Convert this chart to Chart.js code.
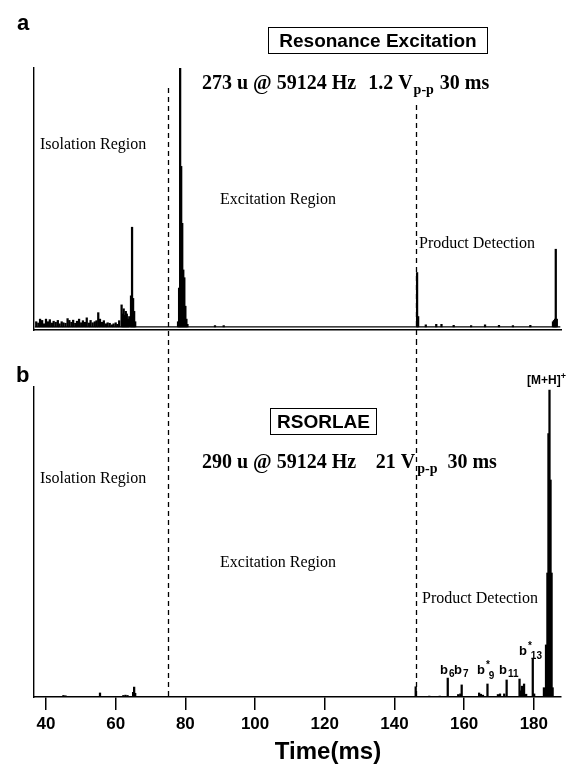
<!DOCTYPE html>
<html><head><meta charset="utf-8">
<script src="https://cdn.jsdelivr.net/npm/chart.js@4.4.1/dist/chart.umd.min.js"></script>
<style>
html,body{margin:0;padding:0;background:#fff;}
#wrap{position:relative;width:573px;height:764px;overflow:hidden;background:#fff;}
canvas{position:absolute;left:0;}
#ca{top:0;} #cb{top:340px;}
</style></head><body>
<div id="wrap"><canvas id="ca" width="573" height="340"></canvas><canvas id="cb" width="573" height="424"></canvas></div>
<script>
// ---- data (time in ms, relative intensity in %) ----
const timeA = [37.2,37.8,38.3,38.9,39.4,40.0,40.6,41.1,41.7,42.2,42.8,43.4,43.9,44.5,45.0,45.6,46.2,46.7,47.3,47.8,48.4,48.9,49.5,50.1,50.6,51.2,51.7,52.3,52.8,53.4,54.0,54.5,55.0,55.5,56.1,56.6,57.2,57.7,58.3,58.9,59.4,60.0,60.5,61.0,
  61.7,62.0,62.3,62.6,62.9,63.2,63.5,63.9,64.4,64.7,65.0,65.3,65.6,
  77.9,78.2,78.5,78.8,79.1,79.4,79.7,80.0,80.3,80.6,
  88.5,91.0,
  146.5,146.8,
  149.0,152.0,153.5,157.0,162.0,166.0,170.0,174.0,179.0,
  185.5,185.8,186.1,186.3,186.6];
const valA = [2,1.5,3,2.5,1.2,3,2,2.8,1.5,2.2,1.8,2.5,1.2,2,1.6,1.4,3.2,2.5,1.8,2.6,1.4,2.2,3,1.6,2.4,1.8,3.5,1.5,2.5,1.6,2,2.4,5.5,3,1.8,2.4,1.2,1.6,1.4,0.8,1.2,1.6,1.0,2.4,
  8.5,5,7,4.5,6,5,3,4,12,38.5,11,6,2,
  2,15,100,62,40,22,19,8,3,1,
  0.5,0.5,
  21,4,
  0.8,1,1,0.6,0.5,0.8,0.6,0.5,0.6,
  2,2.5,3,30,3];
const timeB = [45.0,45.6,55.5,62.2,62.8,63.4,65.0,65.3,65.6,146.1,150.0,153.0,155.3,158.3,158.9,159.3,164.3,164.8,165.4,166.7,169.7,170.3,171.5,172.2,175.9,176.3,176.6,177.2,177.8,179.7,180.1,182.9,183.5,183.9,184.2,184.5,184.8,185.1,185.4];
const valB = [0.5,0.4,1.3,0.5,0.6,0.5,1.5,3.2,1.2,3.3,0.3,0.3,6.1,0.8,1,3.9,1.3,0.9,0.6,4.2,0.8,1,1,5.5,5.8,2,3.5,4.2,0.9,12.3,1,3,16.8,40,85,99,70,40,3];
const regionBounds = [75.0, 146.2];
const xTicks = [40,60,80,100,120,140,160,180];
const xRange = [36.56, 187.8];
const baselineA = [36.8, 187.6];

const SANS = '"Liberation Sans", Arial, sans-serif';
const SERIF = '"Liberation Serif", "Times New Roman", serif';

function pts(t, v){ return t.map((x,i)=>({x:x, y:v[i]})); }

function txt(ctx, s, x, y, font, align){
  ctx.font = font; ctx.textAlign = align||'left'; ctx.textBaseline='alphabetic'; ctx.fillStyle='#000';
  ctx.fillText(s, x, y);
}
function run(ctx, x, y, parts){
  ctx.textAlign='left'; ctx.textBaseline='alphabetic'; ctx.fillStyle='#000';
  parts.forEach(p=>{ ctx.font=p[1]; ctx.fillText(p[0], x, y+(p[2]||0)); x += ctx.measureText(p[0]).width + (p[3]||0); });
}

function dashPlugin(panel){
  return {id:'dash'+panel, afterDatasetsDraw(chart){
    const ctx=chart.ctx, xs=chart.scales.x;
    ctx.save(); ctx.strokeStyle='#000'; ctx.lineWidth=1.3; ctx.setLineDash([5,4]);
    regionBounds.forEach((v,i)=>{
      const px=Math.round(xs.getPixelForValue(v))+0.5;
      const y0 = panel==='a' ? [88,105][i] : 0;
      const y1 = panel==='a' ? chart.height : chart.chartArea.bottom;
      ctx.beginPath(); ctx.moveTo(px,y0); ctx.lineTo(px,y1); ctx.stroke();
    });
    ctx.restore();
  }};
}

const textA = {id:'textA', afterDraw(chart){
  const c=chart.ctx; c.save();
  txt(c,'a',17,30,'bold 22px '+SANS);
  c.strokeStyle='#000'; c.lineWidth=1; c.strokeRect(268.5,27.5,219,26);
  txt(c,'Resonance Excitation',378,47,'bold 19px '+SANS,'center');
  run(c,202,89,[['273 u @ 59124 Hz','bold 20px '+SERIF,0,12],['1.2 V','bold 20px '+SERIF,0,1],['p-p','bold 14px '+SERIF,5,6],['30 ms','bold 20px '+SERIF,0]]);
  txt(c,'Isolation Region',40,149,'16px '+SERIF);
  txt(c,'Excitation Region',220,204,'16px '+SERIF);
  txt(c,'Product Detection',419,248,'16px '+SERIF);
  c.restore();
}};

const OB = 340;
const textB = {id:'textB', afterDraw(chart){
  const c=chart.ctx; c.save();
  txt(c,'b',16,382-OB,'bold 22px '+SANS);
  run(c,527,384-OB,[['[M+H]','bold 12px '+SANS,0,0],['+','bold 9px '+SANS,-5]]);
  c.strokeStyle='#000'; c.lineWidth=1; c.strokeRect(270.5,408.5-OB,106,26);
  txt(c,'RSORLAE',323.5,428-OB,'bold 19px '+SANS,'center');
  run(c,202,468-OB,[['290 u @ 59124 Hz','bold 20px '+SERIF,0,19.6],['21 V','bold 20px '+SERIF,0,2],['p-p','bold 14px '+SERIF,5,10],['30 ms','bold 20px '+SERIF,0]]);
  txt(c,'Isolation Region',40,483-OB,'16px '+SERIF);
  txt(c,'Excitation Region',220,567-OB,'16px '+SERIF);
  txt(c,'Product Detection',422,603-OB,'16px '+SERIF);
  const B='bold 13px '+SANS, S='bold 10px '+SANS;
  run(c,440,674-OB,[['b',B,0,1],['6',S,3]]);
  run(c,454,674-OB,[['b',B,0,1],['7',S,3]]);
  run(c,477,674-OB,[['b',B,0,1],['*',S,-6,-1],['9',S,5]]);
  run(c,499,674-OB,[['b',B,0,1],['11',S,3]]);
  run(c,519,655-OB,[['b',B,0,1],['*',S,-6,-1],['13',S,4]]);
  txt(c,'Time(ms)',328,759-OB,'bold 24px '+SANS,'center');
  c.restore();
}};

const common = {responsive:false, animation:false, events:[],
  plugins:{legend:{display:false}, tooltip:{enabled:false}, title:{display:false}}};

new Chart(document.getElementById('ca'), {
  type:'bar',
  data:{datasets:[
    {type:'line', data: baselineA.map(x=>({x:x,y:0})), borderColor:'#000', borderWidth:1.4, pointRadius:0, order:1},
    {data: pts(timeA,valA), backgroundColor:'#000', borderWidth:0, barThickness:1.6, order:0}
  ]},
  options:Object.assign({}, common, {
    layout:{padding:{top:68,right:12,left:0,bottom:0}},
    scales:{
      x:{type:'linear', min:xRange[0], max:xRange[1], offset:false, grid:{display:false, offset:false}, ticks:{display:false},
         border:{display:true,color:'#000',width:1.4}, afterFit:s=>{s.height=10;}},
      y:{type:'linear', min:-1.2, max:100, grid:{display:false}, ticks:{display:false},
         border:{display:true,color:'#000',width:1.4}, afterFit:s=>{s.width=34;}}
    }
  }),
  plugins:[dashPlugin('a'), textA]
});

new Chart(document.getElementById('cb'), {
  type:'bar',
  data:{datasets:[
    {data: pts(timeB,valB), backgroundColor:'#000', borderWidth:0, barThickness:1.6}
  ]},
  options:Object.assign({}, common, {
    layout:{padding:{top:47,right:12,left:0,bottom:0}},
    scales:{
      x:{type:'linear', min:xRange[0], max:xRange[1], offset:false,
         afterBuildTicks:s=>{ s.ticks = xTicks.map(v=>({value:v})); },
         grid:{display:true, offset:false, drawOnChartArea:false, drawTicks:true, tickLength:13, color:'#000', lineWidth:1.5},
         ticks:{color:'#000', font:{family:SANS, weight:'bold', size:17}, padding:4, maxRotation:0, autoSkip:false},
         border:{display:true,color:'#000',width:1.5}, afterFit:s=>{s.height=67;}},
      y:{type:'linear', min:0, max:100, grid:{display:false}, ticks:{display:false},
         border:{display:true,color:'#000',width:1.4}, afterFit:s=>{s.width=34;}}
    }
  }),
  plugins:[dashPlugin('b'), textB]
});
</script>
</body></html>
